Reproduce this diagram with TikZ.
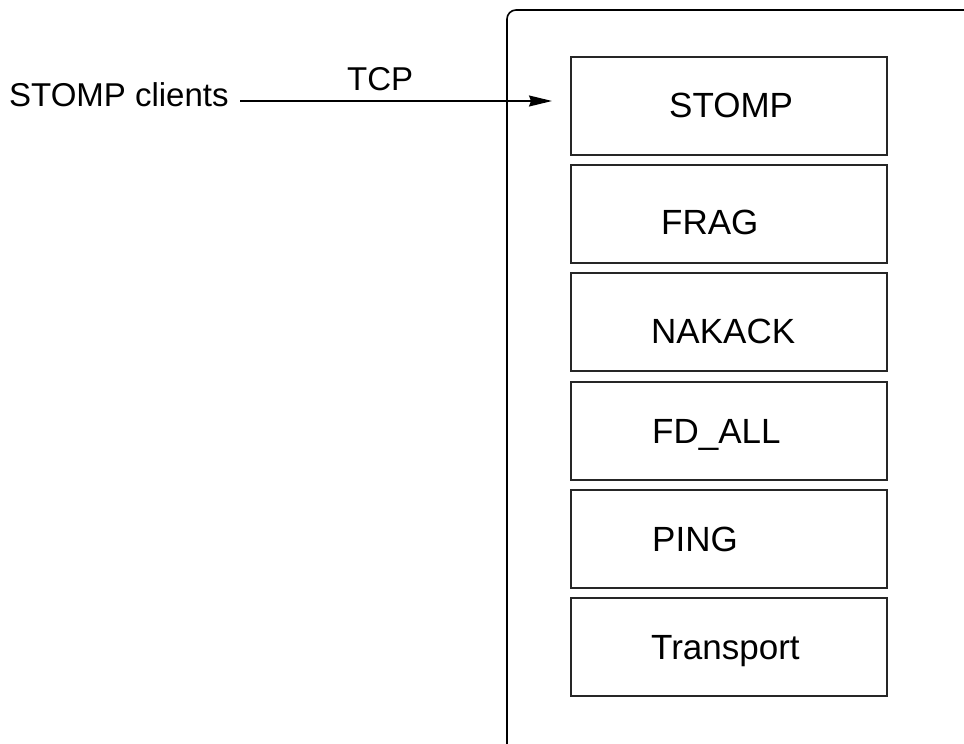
\documentclass[tikz,border=0pt]{standalone}
\usepackage{fontspec}
\setmainfont{Liberation Sans}
\usetikzlibrary{arrows.meta}
\begin{document}
\begin{tikzpicture}[x=1pt,y=-1pt,
  layer/.style={draw=black!85, line width=1.6pt, rectangle, minimum width=316pt,
    minimum height=98pt, inner sep=0pt, anchor=north west},
  layertext/.style={font=\fontsize{35}{40}\selectfont, inner sep=0pt, anchor=base west},
  sidetext/.style={font=\fontsize{33}{38}\selectfont, inner sep=0pt, anchor=base west},
  link/.style={line width=1.4pt, -{Stealth[length=23pt,width=11pt,inset=2pt]}}]
\useasboundingbox (0,0) rectangle (964,744);
\begin{scope}
\clip (0,0) rectangle (964,744);
% host container, open to the right and bottom
\draw[line width=1.6pt, rounded corners=9pt] (507,750) -- (507,10) -- (970,10);
\end{scope}
% protocol stack
\node[layer] (stomp)     at (570,56)  {};
\node[layer] (frag)      at (570,164) {};
\node[layer] (nakack)    at (570,272) {};
\node[layer] (fdall)     at (570,381) {};
\node[layer] (ping)      at (570,489) {};
\node[layer] (transport) at (570,597) {};
\node[layertext] (stompt)     at (669,117) {STOMP};
\node[layertext] (fragt)      at (661,234) {FRAG};
\node[layertext] (nakackt)    at (651,343) {NAKACK};
\node[layertext] (fdallt)     at (652,443) {FD\_ALL};
\node[layertext] (pingt)      at (652,551) {PING};
\node[layertext] (transportt) at (651,659) {Transport};
% client connection
\node[sidetext] (clients) at (9,106) {STOMP clients};
\node[sidetext] (tcp) at (347,90) {TCP};
\coordinate (linkstart) at (240,101);
\draw[link, shorten >=18pt] (linkstart) -- (stomp.west |- linkstart);
\end{tikzpicture}
\end{document}
